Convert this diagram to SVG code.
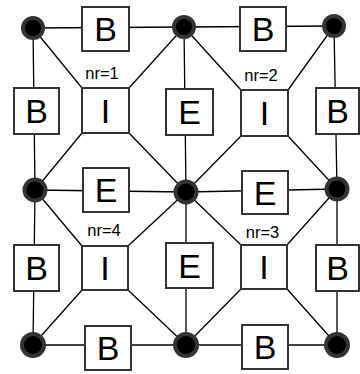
<svg xmlns="http://www.w3.org/2000/svg" width="360" height="374" viewBox="0 0 360 374">
  <style>
    .edge { stroke: #000; stroke-width: 1.3; fill: none; }
    .box { fill: #fff; stroke: #333; stroke-width: 2; }
    .lbl { font-family: "Liberation Sans", Arial, sans-serif; font-size: 34px; fill: #000; text-anchor: middle; }
    .nr { font-family: "Liberation Sans", Arial, sans-serif; font-size: 16.5px; fill: #000; text-anchor: middle; }
    .dot { fill: #000; stroke: #333; stroke-width: 4; }
  </style>

  <!-- connectors -->
  <g id="edges">
    <!-- grid lines between vertices -->
    <line class="edge" x1="33" y1="28" x2="184" y2="27"/>
    <line class="edge" x1="184" y1="27" x2="334" y2="26"/>
    <line class="edge" x1="35" y1="190" x2="186" y2="192"/>
    <line class="edge" x1="186" y1="192" x2="337" y2="189"/>
    <line class="edge" x1="33" y1="345" x2="186" y2="345"/>
    <line class="edge" x1="186" y1="345" x2="337" y2="345"/>
    <line class="edge" x1="33" y1="28" x2="35" y2="190"/>
    <line class="edge" x1="35" y1="190" x2="33" y2="345"/>
    <line class="edge" x1="184" y1="27" x2="186" y2="192"/>
    <line class="edge" x1="186" y1="192" x2="186" y2="345"/>
    <line class="edge" x1="334" y1="26" x2="337" y2="189"/>
    <line class="edge" x1="337" y1="189" x2="337" y2="345"/>
    <!-- diagonals to interior nodes -->
    <line class="edge" x1="33" y1="28" x2="82" y2="88"/>
    <line class="edge" x1="184" y1="27" x2="129" y2="88"/>
    <line class="edge" x1="35" y1="190" x2="82" y2="133"/>
    <line class="edge" x1="186" y1="192" x2="129" y2="133"/>
    <line class="edge" x1="184" y1="27" x2="241" y2="90"/>
    <line class="edge" x1="334" y1="26" x2="288" y2="90"/>
    <line class="edge" x1="186" y1="192" x2="241" y2="136"/>
    <line class="edge" x1="337" y1="189" x2="288" y2="136"/>
    <line class="edge" x1="35" y1="190" x2="82" y2="246"/>
    <line class="edge" x1="186" y1="192" x2="128" y2="246"/>
    <line class="edge" x1="33" y1="345" x2="82" y2="290"/>
    <line class="edge" x1="186" y1="345" x2="128" y2="290"/>
    <line class="edge" x1="186" y1="192" x2="241" y2="245"/>
    <line class="edge" x1="337" y1="189" x2="287" y2="245"/>
    <line class="edge" x1="186" y1="345" x2="241" y2="289"/>
    <line class="edge" x1="337" y1="345" x2="287" y2="289"/>
  </g>

  <!-- vertices -->
  <g id="v-tl"><circle class="dot" cx="33" cy="28" r="10"/></g>
  <g id="v-tm"><circle class="dot" cx="184" cy="27" r="10"/></g>
  <g id="v-tr"><circle class="dot" cx="334" cy="26" r="10"/></g>
  <g id="v-ml"><circle class="dot" cx="35" cy="190" r="10.5"/></g>
  <g id="v-c"><circle class="dot" cx="186" cy="192" r="10.5"/></g>
  <g id="v-mr"><circle class="dot" cx="337" cy="189" r="10.5"/></g>
  <g id="v-bl"><circle class="dot" cx="33" cy="345" r="11"/></g>
  <g id="v-bm"><circle class="dot" cx="186" cy="345" r="11"/></g>
  <g id="v-br"><circle class="dot" cx="337" cy="345" r="11"/></g>

  <!-- boundary edge nodes -->
  <g id="b-top-1"><rect class="box" x="82" y="7" width="47" height="44"/><text class="lbl" x="105.5" y="41">B</text></g>
  <g id="b-top-2"><rect class="box" x="240" y="7" width="46" height="44"/><text class="lbl" x="263" y="41">B</text></g>
  <g id="b-left-1"><rect class="box" x="14" y="88" width="45" height="46"/><text class="lbl" x="36.5" y="123">B</text></g>
  <g id="b-right-1"><rect class="box" x="316" y="88" width="43" height="46"/><text class="lbl" x="337.5" y="123">B</text></g>
  <g id="b-left-2"><rect class="box" x="14" y="245" width="45" height="46"/><text class="lbl" x="36.5" y="280">B</text></g>
  <g id="b-right-2"><rect class="box" x="316" y="245" width="43" height="46"/><text class="lbl" x="337.5" y="280">B</text></g>
  <g id="b-bottom-1"><rect class="box" x="85" y="326" width="46" height="44"/><text class="lbl" x="108" y="360">B</text></g>
  <g id="b-bottom-2"><rect class="box" x="242" y="325" width="46" height="44"/><text class="lbl" x="265" y="359">B</text></g>

  <!-- shared edge nodes -->
  <g id="e-top"><rect class="box" x="166" y="89" width="47" height="46"/><text class="lbl" x="189.5" y="124">E</text></g>
  <g id="e-left"><rect class="box" x="83" y="168" width="46" height="44"/><text class="lbl" x="106" y="202">E</text></g>
  <g id="e-right"><rect class="box" x="242" y="171" width="46" height="43"/><text class="lbl" x="265" y="204.5">E</text></g>
  <g id="e-bottom"><rect class="box" x="166" y="243" width="47" height="45"/><text class="lbl" x="189.5" y="277.5">E</text></g>

  <!-- interior nodes -->
  <g id="i-1"><text class="nr" x="102" y="79">nr=1</text><rect class="box" x="82" y="88" width="47" height="45"/><text class="lbl" x="105.5" y="122.5">I</text></g>
  <g id="i-2"><text class="nr" x="261" y="81">nr=2</text><rect class="box" x="241" y="90" width="47" height="46"/><text class="lbl" x="264.5" y="125">I</text></g>
  <g id="i-3"><text class="nr" x="262.5" y="237.5">nr=3</text><rect class="box" x="241" y="245" width="46" height="44"/><text class="lbl" x="264" y="279">I</text></g>
  <g id="i-4"><text class="nr" x="104" y="236">nr=4</text><rect class="box" x="82" y="246" width="46" height="44"/><text class="lbl" x="105" y="280">I</text></g>
</svg>
